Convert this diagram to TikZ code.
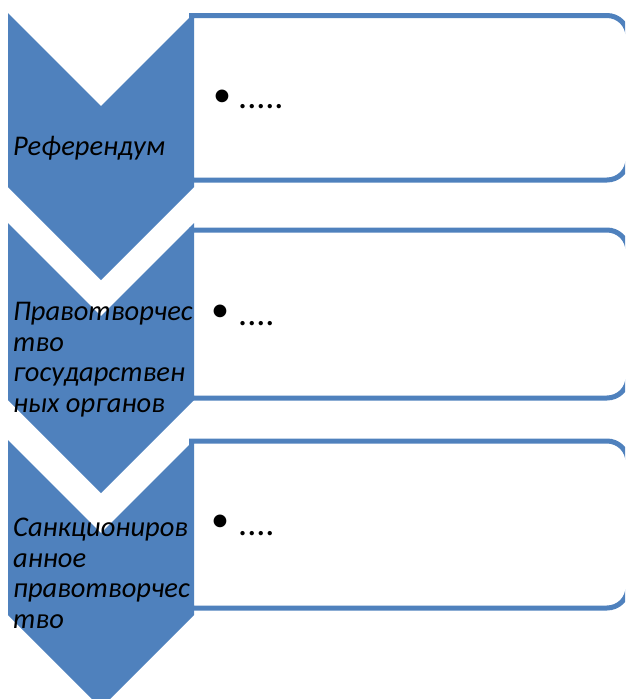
\documentclass[tikz,border=0pt]{standalone}
\usepackage{fontspec}
\setmainfont{Carlito}[ItalicFont={Carlito Italic}]
\definecolor{chevblue}{HTML}{4F81BD}
\begin{document}
\begin{tikzpicture}[x=1pt,y=-1pt,
  chev/.style={fill=chevblue,draw=none},
  boxline/.style={draw=chevblue,line width=5pt,fill=white},
  lbl/.style={font=\fontsize{28.5}{30.5}\selectfont\itshape,align=left,inner sep=0pt,anchor=base west},
  bul/.style={font=\fontsize{36}{40}\selectfont,inner sep=0pt,anchor=center},
  dots/.style={font=\fontsize{36}{40}\selectfont,inner sep=0pt,anchor=base west}]
\useasboundingbox (0,0) rectangle (625,699);
\clip (0,0) rectangle (625,699);
% chevrons
\foreach \t/\b in {13/187,223/400,440/615}{
  \fill[chev] (8,\t) -- (101,\t+93) -- (194,\t) -- (194,\b) -- (101,\b+93) -- (8,\b) -- cycle;
}
% boxes (right corners rounded)
\foreach \t/\b in {15.5/180,230/398,441/608}{
  \draw[boxline] (191.5,\b) -- (191.5,\t) -- (607,\t) arc[start angle=-90,end angle=0,radius=21] -- (628,\b-21) arc[start angle=0,end angle=90,radius=21] -- cycle;
}
% chevron labels
\node[lbl] (l1) at (13,155) {Референдум};
\node[lbl] (l2) at (13,412) {Правотворчес\\тво\\государствен\\ных органов};
\node[lbl] (l3) at (13,628) {Санкциониров\\анное\\правотворчес\\тво};
% bullets
\node[bul] (b1) at (222,98) {•};
\node[dots] (d1) at (238,108) {.....};
\node[bul] (b2) at (220,313) {•};
\node[dots] (d2) at (238,325) {....};
\node[bul] (b3) at (220,523) {•};
\node[dots] (d3) at (238,535) {....};
\end{tikzpicture}
\end{document}
